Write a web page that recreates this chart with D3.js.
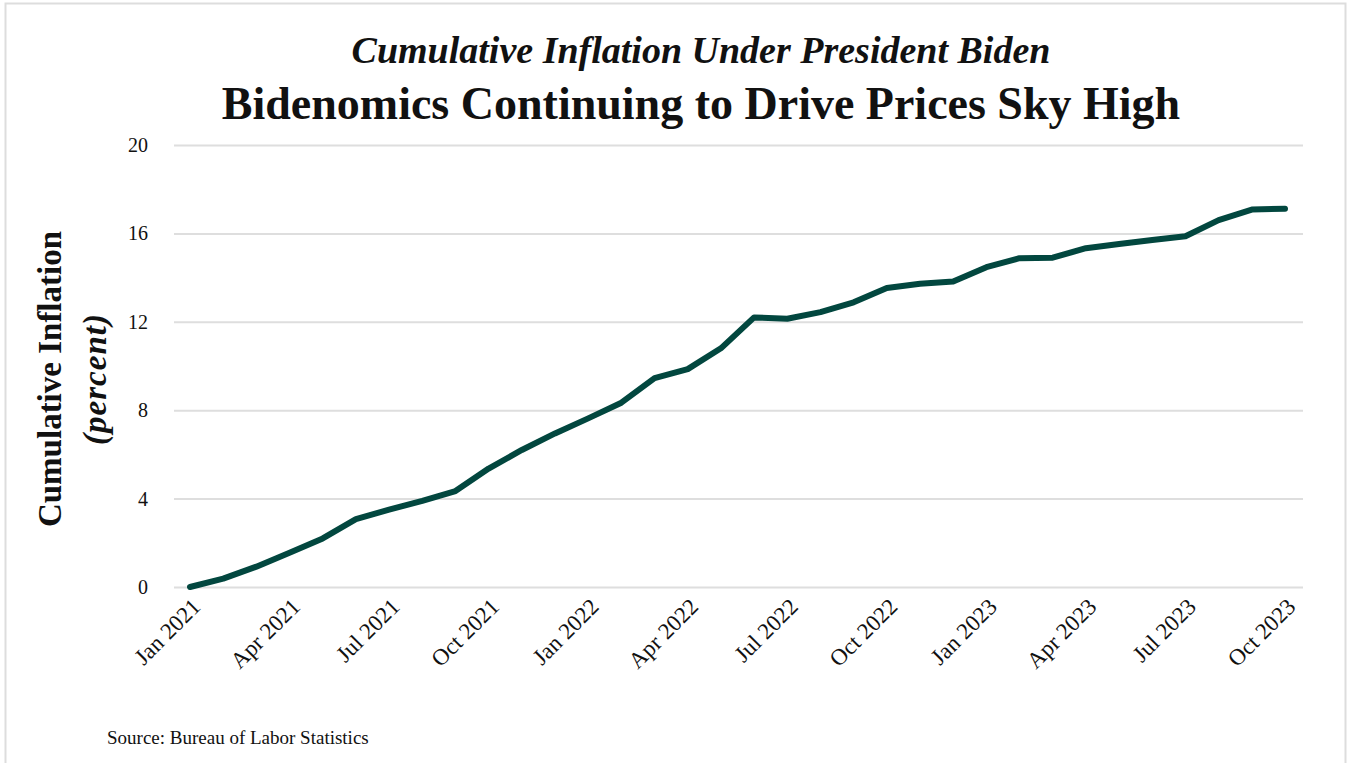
<!DOCTYPE html>
<html>
<head>
<meta charset="utf-8">
<script src="https://cdn.jsdelivr.net/npm/d3@7"></script>
<style>
  body { margin: 0; background: #fff; }
  svg { display: block; }
  .grid line { stroke: #dedede; stroke-width: 2; }
  .grid path { display: none; }
  text { font-family: "Liberation Serif", "DejaVu Serif", serif; fill: #111; }
</style>
</head>
<body>
<svg id="chart" width="1348" height="763"></svg>
<script>
// monthly cumulative inflation since Jan 2021 (percent)
var months = ["Jan 2021","Feb 2021","Mar 2021","Apr 2021","May 2021","Jun 2021","Jul 2021","Aug 2021","Sep 2021","Oct 2021","Nov 2021","Dec 2021",
              "Jan 2022","Feb 2022","Mar 2022","Apr 2022","May 2022","Jun 2022","Jul 2022","Aug 2022","Sep 2022","Oct 2022","Nov 2022","Dec 2022",
              "Jan 2023","Feb 2023","Mar 2023","Apr 2023","May 2023","Jun 2023","Jul 2023","Aug 2023","Sep 2023","Oct 2023"];
var inflation = [0.0, 0.38, 0.92, 1.55, 2.2, 3.07, 3.5, 3.9, 4.34, 5.36, 6.2, 6.95,
                 7.63, 8.34, 9.45, 9.86, 10.8, 12.2, 12.14, 12.44, 12.88, 13.53, 13.72, 13.82,
                 14.47, 14.88, 14.9, 15.33, 15.52, 15.7, 15.87, 16.6, 17.08, 17.12];
var yTicks = [0, 4, 8, 12, 16, 20];
var xTickLabels = ["Jan 2021","Apr 2021","Jul 2021","Oct 2021","Jan 2022","Apr 2022","Jul 2022","Oct 2022","Jan 2023","Apr 2023","Jul 2023","Oct 2023"];

var svg = d3.select("#chart");

// outer frame
svg.append("rect").attr("x", 5.5).attr("y", 3.5).attr("width", 1340).attr("height", 800)
  .attr("fill", "none").attr("stroke", "#dddddd").attr("stroke-width", 2);

var x = d3.scalePoint().domain(months).range([190, 1285]);
var y = d3.scaleLinear().domain([0, 20]).range([587, 145]);

// horizontal gridlines
var yAxis = d3.axisLeft(y).tickValues(yTicks).tickSize(-(1303 - 174)).tickFormat("");
svg.append("g").attr("class", "grid").attr("transform", "translate(174,0)").call(yAxis);

// y tick labels
svg.selectAll(".ylab").data(yTicks).enter().append("text")
  .attr("class", "ylab")
  .attr("x", 148).attr("y", function(d) { return y(d); })
  .attr("dy", "0.35em").attr("text-anchor", "end")
  .style("font-size", "20px")
  .text(function(d) { return d; });

// x tick labels, rotated
svg.selectAll(".xlab").data(xTickLabels).enter().append("text")
  .attr("class", "xlab")
  .attr("text-anchor", "end")
  .attr("transform", function(d) { return "translate(" + (x(d) + 12) + ",608) rotate(-45)"; })
  .style("font-size", "23px")
  .text(function(d) { return d; });

// the line
var line = d3.line()
  .x(function(d, i) { return x(months[i]); })
  .y(function(d) { return y(d); });

svg.append("path")
  .datum(inflation)
  .attr("d", line)
  .attr("fill", "none")
  .attr("stroke", "#02473f")
  .attr("stroke-width", 6)
  .attr("stroke-linejoin", "round")
  .attr("stroke-linecap", "round");

// titles
svg.append("text").attr("x", 701).attr("y", 63).attr("text-anchor", "middle")
  .style("font-size", "38px").style("font-style", "italic").style("font-weight", "bold")
  .text("Cumulative Inflation Under President Biden");
svg.append("text").attr("x", 701).attr("y", 119).attr("text-anchor", "middle")
  .style("font-size", "46px").style("font-weight", "bold")
  .text("Bidenomics Continuing to Drive Prices Sky High");

// y axis title
var yt = svg.append("g").attr("transform", "translate(61,379) rotate(-90)");
yt.append("text").attr("text-anchor", "middle")
  .style("font-size", "33px").style("font-weight", "bold")
  .text("Cumulative Inflation");
yt.append("text").attr("y", 45).attr("text-anchor", "middle")
  .style("font-size", "33px").style("font-weight", "bold").style("font-style", "italic")
  .style("letter-spacing", "1px")
  .text("(percent)");

// source
svg.append("text").attr("x", 107).attr("y", 744)
  .style("font-size", "19px")
  .text("Source: Bureau of Labor Statistics");
</script>
</body>
</html>
